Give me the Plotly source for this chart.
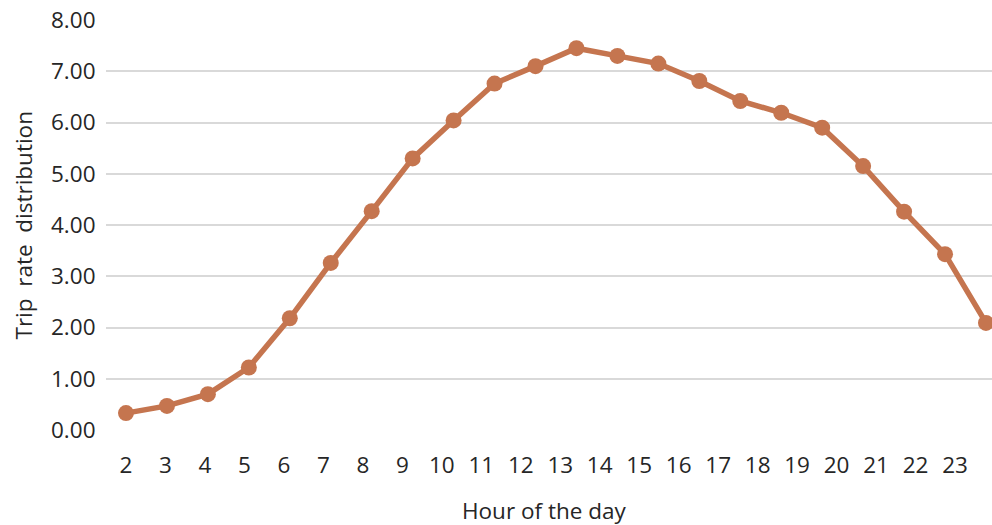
import plotly.graph_objects as go

hours = [2, 3, 4, 5, 6, 7, 8, 9, 10, 11, 12, 13, 14, 15, 16, 17, 18, 19, 20, 21, 22, 23]
trip_rate = [0.33, 0.47, 0.70, 1.22, 2.18, 3.26, 4.27, 5.30, 6.04, 6.76, 7.10, 7.45,
             7.30, 7.15, 6.81, 6.42, 6.19, 5.90, 5.15, 4.26, 3.43, 2.09]
y_ticks = [0, 1, 2, 3, 4, 5, 6, 7, 8]

FONT = "Open Sans"
FS = 22.5
TXT = "#262626"
LINE = "#C5754F"

fig = go.Figure()
fig.add_trace(go.Scatter(
    x=hours, y=trip_rate, mode="lines+markers",
    line=dict(color=LINE, width=5.5),
    marker=dict(color=LINE, size=16),
    cliponaxis=False, showlegend=False, xaxis="x", yaxis="y",
))

fig.update_layout(
    width=992, height=525,
    margin=dict(l=106, r=0, t=20, b=95),
    plot_bgcolor="white", paper_bgcolor="white",
    font=dict(family=FONT, size=FS, color=TXT),
    xaxis=dict(
        range=[hours[0] - 0.488, hours[-1] + 0.147],
        showticklabels=False, showgrid=False, zeroline=False, showline=False,
        ticks="",
    ),
    xaxis2=dict(
        overlaying="x", side="bottom",
        range=[hours[0] - 0.5066, hours[-1] + 0.937],
        tickmode="array", tickvals=hours, ticktext=[str(h) for h in hours],
        showgrid=False, zeroline=False, showline=False,
        ticks="outside", ticklen=15, tickcolor="rgba(0,0,0,0)",
        tickfont=dict(family=FONT, size=FS, color=TXT),
    ),
    yaxis=dict(
        range=[0, 8], tickvals=y_ticks, tickformat=".2f",
        showgrid=True, gridcolor="#D9D9D9", gridwidth=1.6,
        zeroline=False, showline=False,
        ticks="outside", ticklen=5, tickcolor="rgba(0,0,0,0)",
        tickfont=dict(family=FONT, size=FS, color=TXT),
    ),
    annotations=[
        dict(text="Hour of the day", xref="paper", yref="paper",
             x=(544 - 106) / 886, y=-(511 - 430.5) / 410, showarrow=False,
             xanchor="center", yanchor="middle",
             font=dict(family=FONT, size=FS, color=TXT)),
        dict(text="Trip\u00a0 rate\u00a0 distribution", xref="paper", yref="paper",
             x=-(106 - 23) / 886, y=(430.5 - 226) / 410, showarrow=False,
             textangle=-90, xanchor="center", yanchor="middle",
             font=dict(family=FONT, size=FS, color=TXT)),
    ],
)
# invisible trace so the category-label axis (xaxis2) is rendered
fig.add_trace(go.Scatter(x=hours, y=[None] * len(hours), xaxis="x2", yaxis="y",
                         mode="lines", showlegend=False, hoverinfo="skip"))

fig.write_html("out.html")
